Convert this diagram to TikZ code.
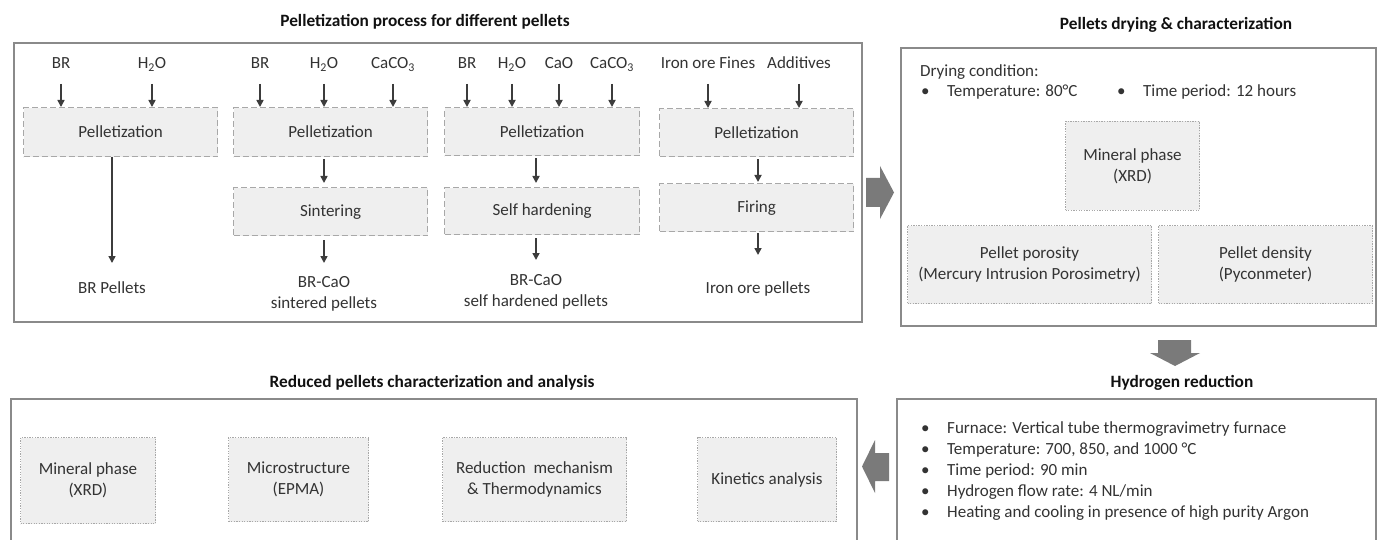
\documentclass[tikz,border=0pt]{standalone}
\usepackage{fontspec}
\setmainfont{Carlito}
\usetikzlibrary{arrows.meta}
\definecolor{framec}{HTML}{8A8A8A}
\definecolor{boxfill}{HTML}{EFEFEF}
\definecolor{boxline}{HTML}{A8A8A8}
\definecolor{txt}{HTML}{333333}
\definecolor{ttl}{HTML}{111111}
\definecolor{arrc}{HTML}{3C3C3C}
\definecolor{blk}{HTML}{7A7A7A}
\tikzset{
  frame/.style={draw=framec, line width=1.7pt},
  dbox/.style={draw=boxline, fill=boxfill, line width=1.3pt, dash pattern=on 6pt off 3pt,
     anchor=north west, inner sep=0pt, align=center, text=txt, font=\fontsize{17}{21}\selectfont},
  obox/.style={draw=boxline, fill=boxfill, line width=1pt, dash pattern=on 1.3pt off 1.3pt,
     anchor=north west, inner sep=0pt, align=center, text=txt, font=\fontsize{17}{21}\selectfont},
  lbl/.style={text=txt, font=\fontsize{17}{21}\selectfont, inner sep=0pt, text height=12pt, text depth=4pt, anchor=center},
  outl/.style={text=txt, font=\fontsize{17}{21}\selectfont, inner sep=0pt, align=center, anchor=north},
  ttlnode/.style={text=ttl, font=\fontsize{17.3}{21}\bfseries\selectfont, inner sep=0pt},
  line/.style={text=txt, font=\fontsize{17}{21}\selectfont, inner sep=0pt, anchor=base west},
  arr/.style={draw=arrc, line width=1.6pt, -{Triangle[width=7pt,length=7pt]}},
  blockarrow/.style={fill=blk, draw=none},
}
\begin{document}
\begin{tikzpicture}[x=1pt,y=-1pt]
\useasboundingbox (0,0) rectangle (1378,540);
\fill[white] (0,0) rectangle (1378,540);
\clip (0,0) rectangle (1378,540);

% ---------- titles ----------
\node[ttlnode] (t1) at (425,22) {Pelletization process for different pellets};
\node[ttlnode] (t2) at (1176,25) {Pellets drying \& characterization};
\node[ttlnode] (t3) at (1182,383) {Hydrogen reduction};
\node[ttlnode] (t4) at (432,383) {Reduced pellets characterization and analysis};

% ---------- frames ----------
\draw[frame] (14,43) rectangle (862,322);
\draw[frame] (901,48) rectangle (1376,326);
\draw[frame] (11,399) rectangle (857,560);
\draw[frame] (897,399) rectangle (1376,560);

% ---------- block arrows ----------
\fill[blockarrow] (866,178) -- (880,178) -- (880,166) -- (894,192.5) -- (880,219) -- (880,207) -- (866,207) -- cycle;
\fill[blockarrow] (1158,340) -- (1191,340) -- (1191,353) -- (1200,353) -- (1175,366) -- (1150,353) -- (1158,353) -- cycle;
\fill[blockarrow] (889,453) -- (875,453) -- (875,440) -- (862,466.5) -- (875,493) -- (875,481) -- (889,481) -- cycle;

% ---------- column 1 ----------
\node[lbl] (a1) at (61,65) {BR};
\node[lbl] (a2) at (152,65) {H\textsubscript{2}O};
\node[dbox, minimum width=194pt, minimum height=49pt] (p1) at (23,107) {Pelletization};
\node[outl] (o1) at (112,281) {BR Pellets};
\draw[arr] ([yshift=-19pt]a1.center) -- (a1 |- p1.north);
\draw[arr] ([yshift=-19pt]a2.center) -- (a2 |- p1.north);
\draw[arr, shorten >=18pt] (o1 |- p1.south) -- (o1.north);

% ---------- column 2 ----------
\node[lbl] (b1) at (260,65) {BR};
\node[lbl] (b2) at (324,65) {H\textsubscript{2}O};
\node[lbl] (b3) at (393,65) {CaCO\textsubscript{3}};
\node[dbox, minimum width=194pt, minimum height=49pt] (p2) at (233,107) {Pelletization};
\node[dbox, minimum width=194pt, minimum height=48pt] (s2) at (233,187) {Sintering};
\node[outl] (o2) at (324,276) {BR-CaO\\sintered pellets};
\draw[arr] ([yshift=-19pt]b1.center) -- (b1 |- p2.north);
\draw[arr] ([yshift=-19pt]b2.center) -- (b2 |- p2.north);
\draw[arr] ([yshift=-19pt]b3.center) -- (b3 |- p2.north);
\draw[arr, shorten <=2pt, shorten >=4pt] (o2 |- p2.south) -- (o2 |- s2.north);
\draw[arr, shorten <=4pt, shorten >=13pt] (o2 |- s2.south) -- (o2.north);

% ---------- column 3 ----------
\node[lbl] (c1) at (467,65) {BR};
\node[lbl] (c2) at (512,65) {H\textsubscript{2}O};
\node[lbl] (c3) at (559,65) {CaO};
\node[lbl] (c4) at (612,65) {CaCO\textsubscript{3}};
\node[dbox, minimum width=195pt, minimum height=48pt] (p3) at (444,107) {Pelletization};
\node[dbox, minimum width=195pt, minimum height=47pt] (s3) at (444,187) {Self hardening};
\node[outl] (o3) at (536,274) {BR-CaO\\self hardened pellets};
\draw[arr] ([yshift=-19pt]c1.center) -- (c1 |- p3.north);
\draw[arr] ([yshift=-19pt]c2.center) -- (c2 |- p3.north);
\draw[arr] ([yshift=-19pt]c3.center) -- (c3 |- p3.north);
\draw[arr] ([yshift=-19pt]c4.center) -- (c4 |- p3.north);
\draw[arr, shorten <=2pt, shorten >=4pt] (o3 |- p3.south) -- (o3 |- s3.north);
\draw[arr, shorten <=3pt, shorten >=14pt] (o3 |- s3.south) -- (o3.north);

% ---------- column 4 ----------
\node[lbl] (d1) at (708,65) {Iron ore Fines};
\node[lbl] (d2) at (799,65) {Additives};
\node[dbox, minimum width=194pt, minimum height=48pt] (p4) at (659,108) {Pelletization};
\node[dbox, minimum width=194pt, minimum height=48pt] (s4) at (659,183) {Firing};
\node[outl] (o4) at (758,281) {Iron ore pellets};
\draw[arr] ([yshift=-19pt]d1.center) -- (d1 |- p4.north);
\draw[arr] ([yshift=-19pt]d2.center) -- (d2 |- p4.north);
\draw[arr, shorten <=2pt, shorten >=1pt] (o4 |- p4.south) -- (o4 |- s4.north);
\draw[arr, shorten <=1pt, shorten >=26pt] (o4 |- s4.south) -- (o4.north);

% ---------- drying & characterization ----------
\node[line] (dc) at (920,77) {Drying condition:};
\node[line] (dt) at (921,97) {\makebox[26pt][l]{•}Temperature: 80°C};
\node[line] (dp) at (1117,97) {\makebox[26pt][l]{•}Time period: 12 hours};
\node[obox, minimum width=134pt, minimum height=89pt] (m1) at (1065,121) {Mineral phase\\(XRD)};
\node[obox, minimum width=244pt, minimum height=78pt] (m2) at (907,225) {Pellet porosity\\(Mercury Intrusion Porosimetry)};
\node[obox, minimum width=214pt, minimum height=78pt] (m3) at (1158,225) {Pellet density\\(Pyconmeter)};

% ---------- hydrogen reduction ----------
\node[line] (h1) at (921,433) {\makebox[26pt][l]{•}Furnace: Vertical tube thermogravimetry furnace};
\node[line] (h2) at (921,454) {\makebox[26pt][l]{•}Temperature: 700, 850, and 1000 °C};
\node[line] (h3) at (921,475) {\makebox[26pt][l]{•}Time period: 90 min};
\node[line] (h4) at (921,496) {\makebox[26pt][l]{•}Hydrogen flow rate: 4 NL/min};
\node[line] (h5) at (921,517) {\makebox[26pt][l]{•}Heating and cooling in presence of high purity Argon};

% ---------- reduced pellets ----------
\node[obox, minimum width=135pt, minimum height=86pt] (r1) at (20,437) {Mineral phase\\(XRD)};
\node[obox, minimum width=140pt, minimum height=84pt] (r2) at (228,437) {Microstructure\\(EPMA)};
\node[obox, minimum width=184pt, minimum height=84pt] (r3) at (442,437) {Reduction\ \ mechanism\\\& Thermodynamics};
\node[obox, minimum width=139pt, minimum height=84pt] (r4) at (697,437) {Kinetics analysis};
\end{tikzpicture}
\end{document}
